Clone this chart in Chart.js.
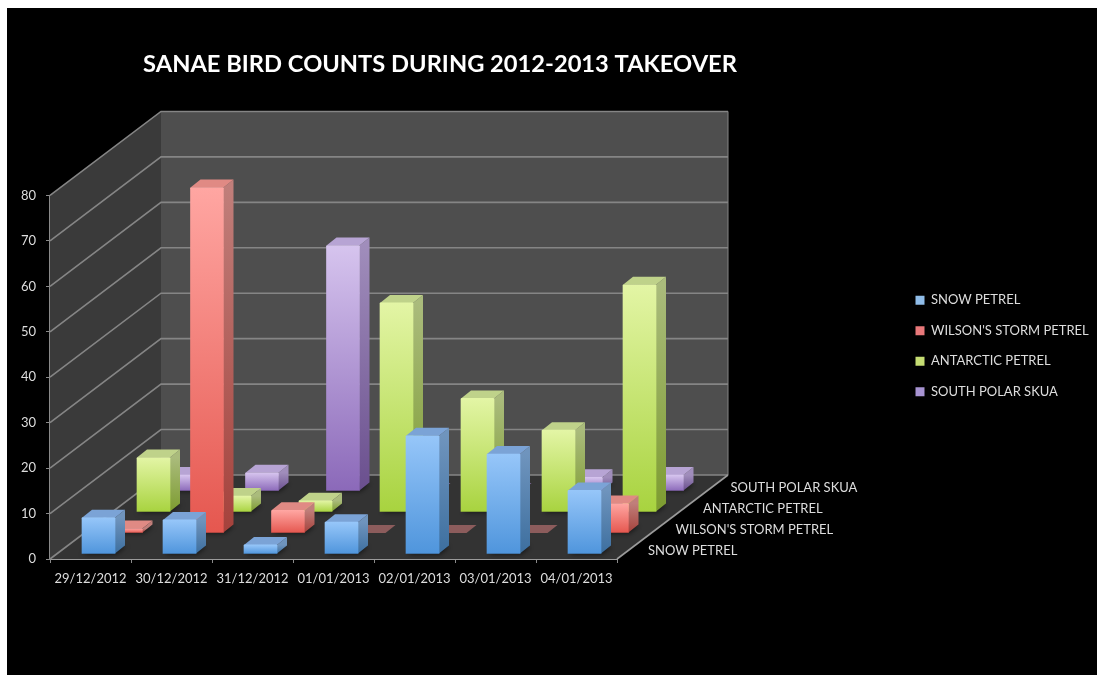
<!DOCTYPE html>
<html>
<head>
<meta charset="utf-8">
<title>SANAE bird counts</title>
<script src="https://cdn.jsdelivr.net/npm/chart.js@4"></script>
<style>
  html, body { margin: 0; padding: 0; background: #fff; overflow: hidden; }
  #backdrop { position: absolute; left: 7px; top: 8px; right: 0; bottom: 0; background: #000; }
  #chart { position: absolute; left: 0; top: 0; filter: blur(0.5px); }
</style>
</head>
<body>
<div id="backdrop"></div>
<canvas id="chart" width="1097" height="675"></canvas>
<script>
var chartTitle = 'SANAE BIRD COUNTS DURING 2012-2013 TAKEOVER';
var categories = ['29/12/2012', '30/12/2012', '31/12/2012', '01/01/2013', '02/01/2013', '03/01/2013', '04/01/2013'];
var seriesNames = ['SNOW PETREL', "WILSON'S STORM PETREL", 'ANTARCTIC PETREL', 'SOUTH POLAR SKUA'];
var snowPetrel = [8, 7.5, 2, 7, 26, 22, 14];
var wilsonsPetrel = [1, 76, 5, 0, 0, 0, 6.5];
var antarcticPetrel = [12, 3.5, 2.5, 46, 25, 18, 50];
var southPolarSkua = [3.5, 4, 54, 0, 0, 3, 3.5];

// colours per series: front face top/bottom, side top/bottom, top face, flat (zero) face
var palette = [
    { front: ['#96c6f9', '#4f95dc'], side: ['#6f94bd', '#3d6f9f'], cap: '#7ba3d6', flat: '#6a8fb8', key: '#8fbce8' },
    { front: ['#ffa6a2', '#e5574f'], side: ['#c07e7a', '#a5423c'], cap: '#e08a84', flat: '#8c5c5c', key: '#e8787a' },
    { front: ['#e3f5a5', '#a8d33f'], side: ['#aabb7c', '#7d9c30'], cap: '#bfd28a', flat: '#8a9c60', key: '#c5dc72' },
    { front: ['#d6c4ee', '#8b69b9'], side: ['#a08dbb', '#6a4f8e'], cap: '#b7a4d4', flat: '#7f6a9c', key: '#a793d2' }
];

// oblique projection of the 3D box
var floorDepth = { x: 111, y: -84 };
var rowStep = { x: 27.5, y: -21 };
var rowStart = { x: 8, y: -5 };
var barDepth = { x: 10, y: -8 };

function rowOffset(i) {
    return { x: rowStart.x + rowStep.x * i, y: rowStart.y + rowStep.y * i };
}

function frontFill(i) {
    return function (c) {
        if (!c.parsed) return palette[i].key;
        var y = c.chart.scales.y;
        var g = c.chart.ctx.createLinearGradient(0, y.getPixelForValue(c.parsed.y), 0, y.getPixelForValue(0));
        g.addColorStop(0, palette[i].front[0]);
        g.addColorStop(1, palette[i].front[1]);
        return g;
    };
}

function poly(ctx, pts, fill) {
    ctx.beginPath();
    ctx.moveTo(pts[0][0], pts[0][1]);
    for (var i = 1; i < pts.length; i++) ctx.lineTo(pts[i][0], pts[i][1]);
    ctx.closePath();
    ctx.fillStyle = fill;
    ctx.fill();
}

var boxPlugin = {
    id: 'box3d',
    afterLayout: function (chart) {
        // title sits over the plot, not over the whole canvas
        chart.titleBlock.right = 880;
        // side boxes get capped at a third of the width, so widen the legend by hand
        chart.legend.left = 898;
        chart.legend.right = 1097;
        chart.legend.width = 199;
    },
    beforeDatasetsDraw: function (chart) {
        var ctx = chart.ctx, x = chart.scales.x, y = chart.scales.y;
        var l = x.left, r = x.right, b = y.getPixelForValue(0), t = y.getPixelForValue(80);
        var dx = floorDepth.x, dy = floorDepth.y;
        ctx.save();
        poly(ctx, [[l + dx, t + dy], [r + dx, t + dy], [r + dx, b + dy], [l + dx, b + dy]], '#4e4e4e');
        poly(ctx, [[l, t], [l + dx, t + dy], [l + dx, b + dy], [l, b]], '#3a3a3a');
        poly(ctx, [[l, b], [l + dx, b + dy], [r + dx, b + dy], [r, b]], '#333333');
        ctx.strokeStyle = '#858585';
        ctx.lineWidth = 1.6;
        y.ticks.forEach(function (tick) {
            var p = y.getPixelForValue(tick.value);
            ctx.beginPath();
            ctx.moveTo(l, p);
            ctx.lineTo(l + dx, p + dy);
            ctx.lineTo(r + dx, p + dy);
            ctx.stroke();
        });
        ctx.lineWidth = 1;
        ctx.beginPath();
        ctx.moveTo(r + dx, t + dy);
        ctx.lineTo(r + dx, b + dy);
        ctx.stroke();
        ctx.strokeStyle = '#9a9a9a';
        ctx.lineWidth = 1.6;
        ctx.beginPath();
        ctx.moveTo(r, b);
        ctx.lineTo(r + dx, b + dy);
        ctx.stroke();
        ctx.restore();
    },
    beforeDatasetDraw: function (chart, args) {
        var ctx = chart.ctx, i = args.index, off = rowOffset(i), col = palette[i];
        ctx.save();
        ctx.translate(off.x, off.y);
        args.meta.data.forEach(function (bar) {
            var x1 = bar.x - bar.width / 2, x2 = bar.x + bar.width / 2, top = bar.y, base = bar.base;
            var dx = barDepth.x, dy = barDepth.y;
            if (base - top < 0.5) {
                poly(ctx, [[x1, base], [x2, base], [x2 + dx, base + dy], [x1 + dx, base + dy]], col.flat);
                return;
            }
            ctx.save();
            ctx.shadowColor = 'rgba(0,0,0,0.8)';
            ctx.shadowBlur = 5;
            ctx.shadowOffsetX = 1;
            ctx.shadowOffsetY = 1;
            poly(ctx, [[x1, base], [x2, base], [x2 + dx, base + dy], [x1 + dx, base + dy]], 'rgba(0,0,0,0.7)');
            ctx.restore();
            var g = ctx.createLinearGradient(0, top, 0, base);
            g.addColorStop(0, col.side[0]);
            g.addColorStop(1, col.side[1]);
            poly(ctx, [[x2, top], [x2 + dx, top + dy], [x2 + dx, base + dy], [x2, base]], g);
            poly(ctx, [[x1, top], [x2, top], [x2 + dx, top + dy], [x1 + dx, top + dy]], col.cap);
        });
    },
    afterDatasetDraw: function (chart) {
        chart.ctx.restore();
    },
    afterDatasetsDraw: function (chart) {
        // series names along the floor's right edge
        var ctx = chart.ctx, x = chart.scales.x, b = chart.scales.y.getPixelForValue(0);
        ctx.save();
        ctx.font = '13px Lato';
        ctx.fillStyle = '#dddddd';
        ctx.textAlign = 'left';
        ctx.textBaseline = 'middle';
        seriesNames.forEach(function (name, i) {
            ctx.fillText(name, x.right + 31 + rowStep.x * i, b - 8 + rowStep.y * i);
        });
        ctx.restore();
    }
};

var seriesData = [snowPetrel, wilsonsPetrel, antarcticPetrel, southPolarSkua];

new Chart(document.getElementById('chart').getContext('2d'), {
    type: 'bar',
    data: {
        labels: categories,
        datasets: seriesNames.map(function (name, i) {
            return {
                label: name,
                data: seriesData[i],
                backgroundColor: frontFill(i),
                clip: false,
                barThickness: 33,
                borderRadius: 1
            };
        })
    },
    options: {
        responsive: false,
        animation: false,
        events: [],
        grouped: false,
        layout: { padding: { top: 17, right: 8, bottom: 0, left: 0 } },
        scales: {
            x: {
                grid: { offset: true, drawOnChartArea: false, tickLength: 4, tickColor: '#8a8a8a' },
                border: { color: '#9a9a9a', width: 2 },
                ticks: { color: '#dddddd', font: { family: 'Lato', size: 13 }, maxRotation: 0, autoSkip: false, padding: 8 },
                afterFit: function (s) { s.height = 116; }
            },
            y: {
                min: 0,
                max: 80,
                grid: { drawOnChartArea: false, tickLength: 4, tickColor: '#8a8a8a' },
                border: { color: '#8a8a8a', width: 1.5 },
                ticks: { stepSize: 10, color: '#dddddd', font: { family: 'Lato', size: 13 }, padding: 10 },
                afterFit: function (s) { s.width = 50; }
            },
            gap: {
                position: 'right',
                grid: { display: false },
                border: { display: false },
                ticks: { display: false },
                afterFit: function (s) { s.width = 290.5; }
            }
        },
        plugins: {
            title: {
                display: true,
                text: chartTitle,
                color: '#ffffff',
                font: { family: 'Lato', size: 23.7, weight: 'bold' },
                padding: { top: 33, bottom: 117 }
            },
            legend: {
                position: 'right',
                labels: {
                    color: '#dddddd',
                    font: { family: 'Lato', size: 13 },
                    boxWidth: 9,
                    boxHeight: 9,
                    padding: 17.5,
                    generateLabels: function () {
                        return seriesNames.map(function (name, i) {
                            return { text: name, fillStyle: palette[i].key, strokeStyle: palette[i].key, lineWidth: 0, fontColor: '#dddddd', datasetIndex: i };
                        });
                    }
                }
            },
            tooltip: { enabled: false }
        }
    },
    plugins: [boxPlugin]
});
</script>
</body>
</html>
